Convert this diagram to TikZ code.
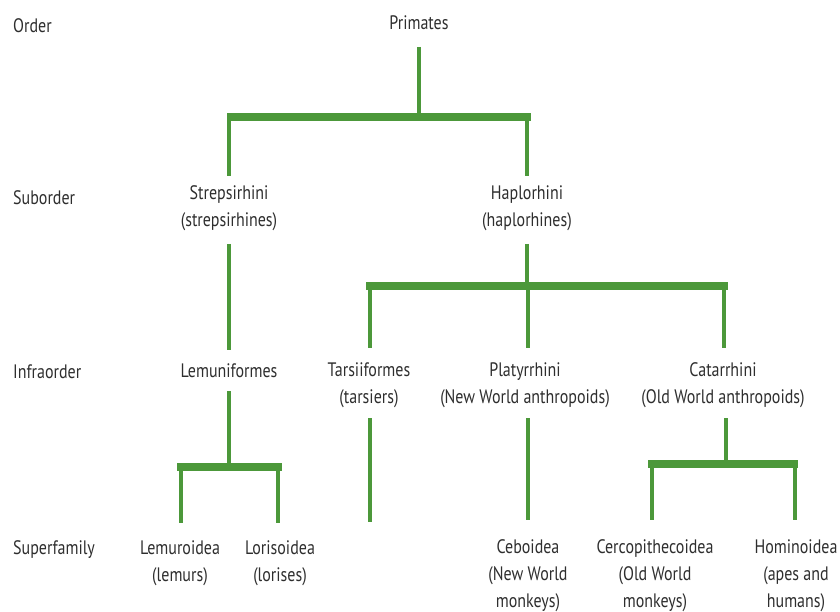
\documentclass[tikz,border=0pt]{standalone}
\usepackage{fontspec}
\setmainfont[FakeStretch=0.82]{PT Sans}
\definecolor{treegreen}{RGB}{76,152,58}
\begin{document}
\begin{tikzpicture}[x=1pt,y=-1pt,
  lbl/.style={font=\fontsize{19.5}{27}\selectfont, text=black!82, inner sep=0pt, align=center},
  rank/.style={lbl, anchor=west},
  vl/.style={draw=treegreen, line width=4.3pt},
  hb/.style={draw=treegreen, line width=8pt, line cap=butt}]
\useasboundingbox (0,0) rectangle (840,612);

% rank labels
\node[rank] (rOrder) at (13,26) {Order};
\node[rank] (rSub) at (13,198) {Suborder};
\node[rank] (rInfra) at (13,372) {Infraorder};
\node[rank] (rSuper) at (13,550) {Superfamily};

% taxa
\node[lbl] (prim) at (419,23) {Primates};
\node[lbl] (strep) at (229,208) {Strepsirhini\\(strepsirhines)};
\node[lbl] (hap) at (527,208) {Haplorhini\\(haplorhines)};
\node[lbl] (lemf) at (229,371) {Lemuniformes};
\node[lbl] (tars) at (369,385) {Tarsiiformes\\(tarsiers)};
\node[lbl] (plat) at (525,385) {Platyrrhini\\(New World anthropoids)};
\node[lbl] (cat) at (723,385) {Catarrhini\\(Old World anthropoids)};
\node[lbl] (lemr) at (180,563) {Lemuroidea\\(lemurs)};
\node[lbl] (lori) at (280,563) {Lorisoidea\\(lorises)};
\node[lbl] (cebo) at (528,576) {Ceboidea\\(New World\\monkeys)};
\node[lbl] (cerc) at (655,576) {Cercopithecoidea\\(Old World\\monkeys)};
\node[lbl] (homi) at (796,576) {Hominoidea\\(apes and\\humans)};

% connector coordinates
\coordinate (b1) at (419,117);
\coordinate (b1l) at (227,117);
\coordinate (b1r) at (531,117);
\coordinate (b2) at (527,285.5);
\coordinate (b2l) at (366,285.5);
\coordinate (b2r) at (728,285.5);
\coordinate (b3) at (229,466.5);
\coordinate (b3l) at (177,466.5);
\coordinate (b3r) at (282,466.5);
\coordinate (b4) at (726,463.5);
\coordinate (b4l) at (648,463.5);
\coordinate (b4r) at (798,463.5);
\coordinate (tarsEnd) at (370,522);

% Primates
\draw[vl] (419,47) -- (b1);
\draw[hb] (b1l) -- (b1r);
\draw[vl] (229,117) -- (229,176);
\draw[vl] (527,117) -- (527,176);
% Strepsirhini -> Lemuniformes
\draw[vl] (229,244) -- (229,350);
% Haplorhini
\draw[vl] (527,244) -- (b2);
\draw[hb] (b2l) -- (b2r);
\draw[vl] (370,285) -- (370,348);
\draw[vl] (528,285) -- (528,348);
\draw[vl] (724,285) -- (724,348);
% Lemuniformes
\draw[vl] (229,391) -- (b3);
\draw[hb] (b3l) -- (b3r);
\draw[vl] (181,466) -- (181,523);
\draw[vl] (278,466) -- (278,523);
% Tarsiiformes
\draw[vl] (370,418) -- (tarsEnd);
% Platyrrhini
\draw[vl] (528,418) -- (528,520);
% Catarrhini
\draw[vl] (726,418) -- (b4);
\draw[hb] (b4l) -- (b4r);
\draw[vl] (652,463) -- (652,520);
\draw[vl] (795,463) -- (795,520);
\end{tikzpicture}
\end{document}
